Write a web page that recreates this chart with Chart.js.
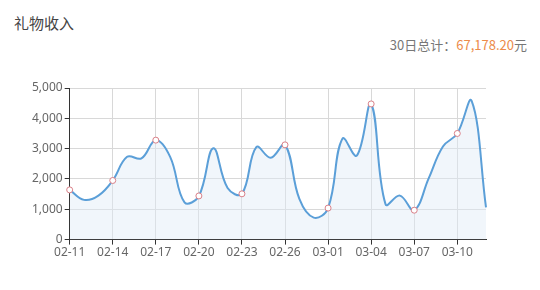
<!DOCTYPE html>
<html><head><meta charset="utf-8">
<script src="https://cdn.jsdelivr.net/npm/chart.js@4/dist/chart.umd.min.js"></script>
<style>
html,body{margin:0;padding:0;background:#fff;width:540px;height:290px;overflow:hidden;font-family:"Noto Sans CJK SC","Noto Sans",sans-serif;}
#title{position:absolute;left:14px;top:12px;font-size:15px;color:#444;}
#total{position:absolute;right:13px;top:35px;font-size:13px;color:#777;}
#total .num{color:#ec8b4a;}
#wrap{position:absolute;left:0;top:0;width:540px;height:290px;}
</style></head>
<body>
<div id="title">礼物收入</div>
<div id="total">30日总计：<span class="num">67,178.20</span>元</div>
<div id="wrap"><canvas id="c"></canvas></div>
<script>
const categories = ["02-11","02-12","02-13","02-14","02-15","02-16","02-17","02-18","02-19","02-20",
  "02-21","02-22","02-23","02-24","02-25","02-26","02-27","02-28","03-01","03-02",
  "03-03","03-04","03-05","03-06","03-07","03-08","03-09","03-10","03-11","03-12"];
const income = [1640,1310,1450,1950,2730,2680,3280,2730,1230,1440,
  3010,1700,1510,3050,2700,3125,1340,725,1040,3330,
  2770,4475,1170,1450,970,2010,3070,3500,4575,1060];
const yTicks = [0,1000,2000,3000,4000,5000];

const ctx = document.getElementById('c');
new Chart(ctx, {
  type: 'line',
  data: {
    labels: categories,
    datasets: [{
      data: income,
      borderColor: '#5b9fd8',
      borderWidth: 2,
      backgroundColor: 'rgba(225,236,247,0.45)',
      fill: 'origin',
      tension: 0.4,
      pointRadius: income.map((v,i)=> i%3===0 ? 3 : 0),
      pointBackgroundColor: '#fff',
      pointBorderColor: '#d98088',
      pointBorderWidth: 1
    }]
  },
  options: {
    responsive: true,
    maintainAspectRatio: false,
    animation: false,
    layout: { padding: { left: 30, top: 88, right: 54, bottom: 29 } },
    plugins: { legend: { display: false }, tooltip: { enabled: false } },
    scales: {
      x: {
        offset: false,
        border: { color: '#333', width: 1 },
        grid: { color: '#d8d8d8', tickColor: '#333', tickLength: 5, drawOnChartArea: true },
        ticks: {
          autoSkip: false, maxRotation: 0, color: '#666', padding: 1,
          font: { family: '"Noto Sans", sans-serif', size: 12 },
          callback: function(v, i){ return i%3===0 ? categories[i] : null; }
        }
      },
      y: {
        min: 0, max: 5000,
        border: { color: '#333', width: 1 },
        grid: { color: '#d8d8d8', tickColor: '#333', tickLength: 5 },
        afterBuildTicks: function(axis){ axis.ticks = yTicks.map(v=>({value:v})); },
        ticks: {
          color: '#666', padding: 2,
          font: { family: '"Noto Sans", sans-serif', size: 12 },
          callback: function(v){ return v.toLocaleString('en-US'); }
        }
      }
    }
  }
});
</script>
</body></html>
